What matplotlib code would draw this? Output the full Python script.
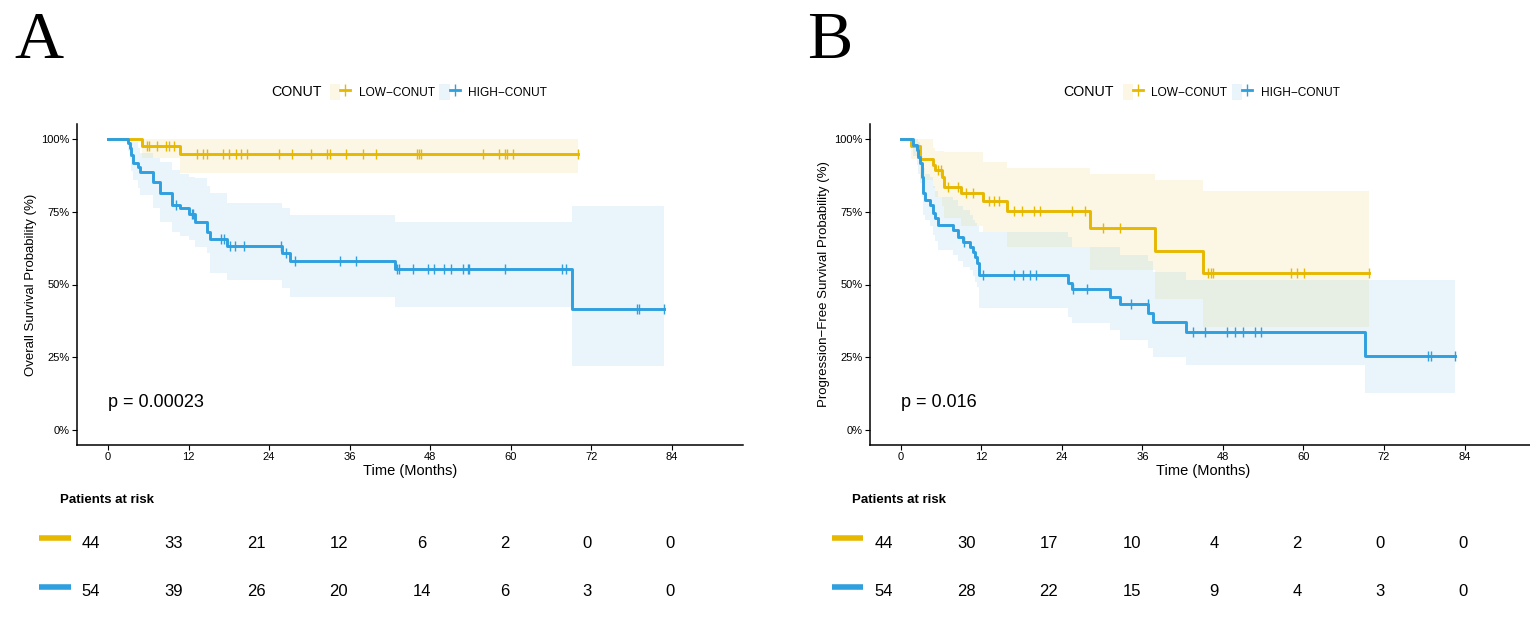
import numpy as np
import matplotlib
matplotlib.use("Agg")
import matplotlib.pyplot as plt
from matplotlib.lines import Line2D
from matplotlib.patches import Patch
from matplotlib.legend_handler import HandlerTuple

plt.rcParams['font.family'] = ['Liberation Sans', 'DejaVu Sans']

####################################################################
## Donnees (temps en mois, survie en fraction)
####################################################################

groupes = ['LOW\u2212CONUT', 'HIGH\u2212CONUT']
couleurs = ['#E7B800', '#2E9FDF']

# A : survie globale
A_low_t = [0, 5.0, 10.8]
A_low_s = [1.0, 0.977, 0.948]
A_low_lo = [1.0, 0.934, 0.882]
A_low_hi = [1.0, 1.0, 1.0]
A_low_fin = 70.0
A_low_cens = [5.8, 6.1, 7.3, 8.6, 9.1, 9.8, 13.2, 14.1, 14.7, 17.1, 18.1, 19.1, 19.8, 20.7,
              25.5, 27.4, 30.2, 32.7, 33.1, 35.4, 38.0, 40.0, 46.1, 46.4, 46.7, 55.8, 58.3,
              59.2, 59.4, 60.3, 70.0]

A_high_t = [0, 3.0, 3.3, 3.5, 3.8, 4.5, 4.8, 6.7, 7.75, 9.5, 10.7, 12.0, 13.0, 14.7, 15.2,
            17.7, 25.9, 27.1, 42.8, 69.2]
A_high_s = [1, .985, .968, .945, .916, .905, .888, .851, .813, .773, .762, .741, .716, .681,
            .655, .633, .607, .581, .552, .415]
A_high_lo = [1, .96, .93, .89, .86, .83, .808, .762, .716, .681, .665, .653, .63, .607, .538,
             .515, .487, .458, .424, .221]
A_high_hi = [1, 1, 1, 1, .99, .97, .951, .934, .92, .893, .88, .87, .865, .84, .813, .779,
             .762, .739, .716, .771]
A_high_fin = 82.8
A_high_cens = [10.1, 12.5, 12.7, 16.9, 17.3, 18.2, 18.9, 20.3, 25.8, 26.5, 27.9, 34.5, 37.0,
               43.0, 43.4, 45.5, 47.6, 48.5, 50.0, 51.1, 52.9, 53.7, 53.8, 59.1, 67.6, 68.2,
               78.8, 79.1, 82.8]

A_risque_low = [44, 33, 21, 12, 6, 2, 0, 0]
A_risque_high = [54, 39, 26, 20, 14, 6, 3, 0]
A_pval = 'p = 0.00023'
A_ylabel = 'Overall Survival Probability (%)'

# B : survie sans progression
B_low_t = [0, 1.5, 2.9, 4.8, 5.1, 6.1, 6.4, 9.0, 12.2, 15.8, 28.2, 37.9, 45.1]
B_low_s = [1, .977, .930, .911, .893, .870, .836, .813, .787, .753, .693, .615, .541]
B_low_lo = [1, .93, .86, .83, .80, .77, .73, .70, .68, .63, .55, .45, .355]
B_low_hi = [1, 1, 1, .97, .96, .96, .956, .956, .922, .899, .879, .859, .822]
B_low_fin = 69.8
B_low_cens = [5.6, 6.0, 7.1, 8.6, 9.8, 10.7, 13.2, 13.9, 14.7, 16.9, 18.0, 19.8, 20.7, 25.5,
              27.5, 30.1, 32.6, 45.8, 46.2, 46.6, 58.2, 59.1, 60.1, 69.8]

B_high_t = [0, 1.88, 2.38, 2.63, 2.88, 3.13, 3.37, 3.62, 4.37, 4.86, 5.1, 5.6, 7.84, 8.6, 9.33,
            10.3, 10.7, 11.1, 11.4, 11.7, 25.0, 25.5, 31.2, 32.6, 36.9, 37.6, 42.5, 69.1]
B_high_s = [1, .979, .962, .939, .916, .870, .813, .790, .773, .745, .727, .704, .687, .664,
            .647, .630, .613, .596, .573, .533, .504, .483, .458, .433, .401, .372, .338, .255]
B_high_lo = [1, .94, .91, .88, .85, .80, .74, .72, .70, .67, .65, .62, .60, .58, .56, .55, .53,
             .51, .49, .418, .39, .367, .344, .309, .283, .252, .223, .126]
B_high_hi = [1, 1, 1, .99, .98, .94, .90, .88, .87, .84, .82, .80, .79, .77, .756, .74, .72,
             .71, .70, .681, .664, .63, .63, .60, .58, .544, .515, .515]
B_high_fin = 82.6
B_high_cens = [9.5, 12.2, 16.9, 18.2, 19.2, 20.2, 25.6, 27.8, 34.3, 36.8, 43.5, 45.4, 48.6,
               49.8, 51.0, 52.8, 53.7, 78.6, 79.0, 82.6]

B_risque_low = [44, 30, 17, 10, 4, 2, 0, 0]
B_risque_high = [54, 28, 22, 15, 9, 4, 3, 0]
B_pval = 'p = 0.016'
B_ylabel = 'Progression\u2212Free Survival Probability (%)'

temps_risque = [0, 12, 24, 36, 48, 60, 72, 84]

####################################################################
## Mise en page (pixels)
####################################################################

W, H = 1530, 621
fig = plt.figure(figsize=(W / 100, H / 100), dpi=100)


def rect(gauche, haut, droite, bas):
    return [gauche / W, 1 - bas / H, (droite - gauche) / W, (bas - haut) / H]


def courbe(ax, t, s, lo, hi, fin, cens, couleur):
    x = list(t) + [fin]
    ax.fill_between(x, list(lo) + [lo[-1]], list(hi) + [hi[-1]], step='post',
                    color=couleur, alpha=0.1, lw=0)
    ax.step(x, list(s) + [s[-1]], where='post', color=couleur, lw=2.1)
    # marques de censure sur la courbe
    idx = np.searchsorted(t, cens, side='right') - 1
    ax.plot(cens, np.array(s)[idx], ls='none', marker='|', ms=7, mew=1.0, color=couleur)


def panneau(dx, lettre, donnees, risques, pval, ylabel):
    ax = fig.add_axes(rect(77.3 + dx, 124.45, 743 + dx, 444.55))
    for (t, s, lo, hi, fin, cens), c in zip(donnees, couleurs):
        courbe(ax, t, s, lo, hi, fin, cens, c)
    ax.set_xlim(-4.57, 94.6)
    ax.set_ylim(-0.05, 1.05)
    ax.set_xticks(temps_risque)
    ax.set_yticks([0, 0.25, 0.5, 0.75, 1.0])
    ax.set_yticklabels(['0%', '25%', '50%', '75%', '100%'])
    ax.tick_params(labelsize=8, length=3.5, width=0.8, pad=2)
    for cote in ['top', 'right']:
        ax.spines[cote].set_visible(False)
    for cote in ['left', 'bottom']:
        ax.spines[cote].set_linewidth(1.1)
    ax.set_xlabel('Time (Months)', fontsize=10.5, labelpad=1)
    ax.set_ylabel(ylabel, fontsize=9.5, labelpad=3)
    ax.text(0, 0.093, pval, fontsize=13, va='center', ha='left')

    # legende
    fig.text((271 + dx) / W, 1 - 92 / H, 'CONUT', fontsize=10.3, va='center', ha='left')
    poignees = [(Patch(facecolor=c, alpha=0.1, lw=0),
                 Line2D([], [], color=c, lw=2.0, marker='|', ms=9, mew=1.0)) for c in couleurs]
    ax.legend(poignees, groupes, handler_map={tuple: HandlerTuple(ndivide=None, pad=0)},
              loc='center left', bbox_to_anchor=((330 + dx) / W, 1 - 92 / H),
              bbox_transform=fig.transFigure, ncol=2, frameon=False, fontsize=8.6,
              handlelength=1.7, handleheight=1.8, handletextpad=0.7, columnspacing=0.4,
              borderpad=0, borderaxespad=0)

    # lettre du panneau
    fig.text((14 + dx) / W, 1 - 42 / H, lettre, fontsize=49, family='Liberation Serif',
             va='center', ha='left')

    # table des patients a risque
    axr = fig.add_axes(rect(30 + dx, 480, 760 + dx, 615))
    axr.set_xlim(-8.8, 97.06)
    axr.set_ylim(615, 480)
    axr.axis('off')
    axr.text(-4.5, 500, 'Patients at risk', fontsize=9.5, fontweight='bold', va='center', ha='left')
    for valeurs, c, y in zip(risques, couleurs, [543, 592]):
        axr.plot([-7.5, -2.9], [y - 5, y - 5], color=c, lw=4.0, solid_capstyle='butt')
        for tt, v in zip(temps_risque, valeurs):
            axr.text(tt, y, str(v), fontsize=12, ha='center', va='center')
    return ax


donnees_A = [(A_low_t, A_low_s, A_low_lo, A_low_hi, A_low_fin, A_low_cens),
             (A_high_t, A_high_s, A_high_lo, A_high_hi, A_high_fin, A_high_cens)]
donnees_B = [(B_low_t, B_low_s, B_low_lo, B_low_hi, B_low_fin, B_low_cens),
             (B_high_t, B_high_s, B_high_lo, B_high_hi, B_high_fin, B_high_cens)]

panneau(0, 'A', donnees_A, [A_risque_low, A_risque_high], A_pval, A_ylabel)
panneau(792.7, 'B', donnees_B, [B_risque_low, B_risque_high], B_pval, B_ylabel)

fig.savefig('out.png', dpi=100)
